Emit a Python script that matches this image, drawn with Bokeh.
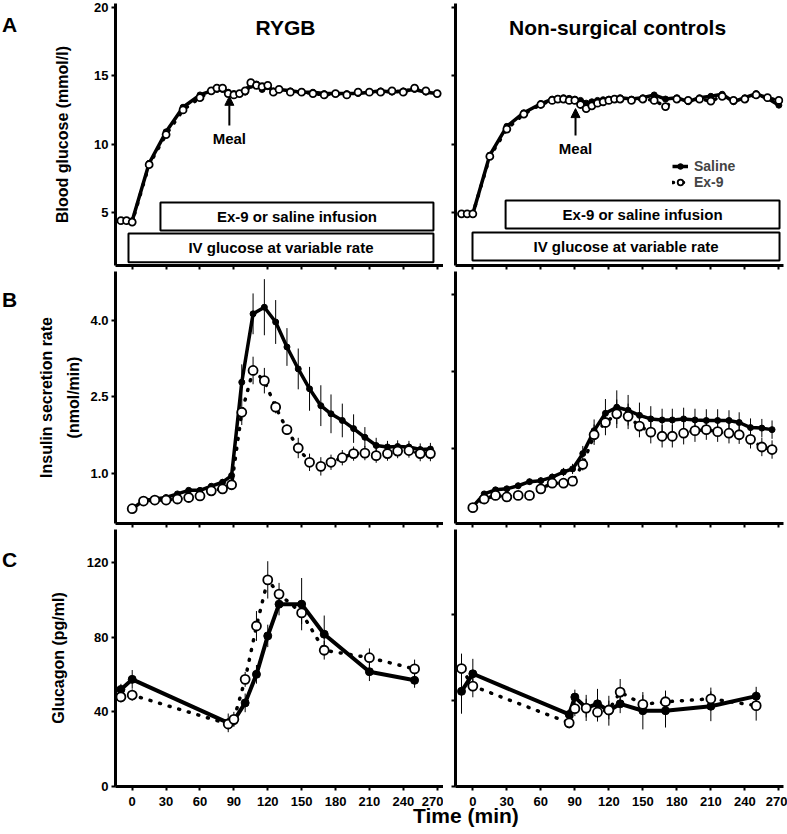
from bokeh.plotting import figure
from bokeh.layouts import column, row
from bokeh.models import (ColumnDataSource, FixedTicker, PrintfTickFormatter, Label,
                          Arrow, NormalHead, Legend, LegendItem, Div, BoxAnnotation, Range1d)
from bokeh.embed import file_html
from bokeh.resources import INLINE

FONT = "Liberation Sans"

# ---------------- data ----------------
x_ticks = [0, 30, 60, 90, 120, 150, 180, 210, 240, 270]

# Panel A: blood glucose (mmol/l)
glu_t = [-10, -5, 0, 15, 30, 45, 60, 70, 75, 80, 85, 90, 95, 100, 105, 110, 115, 120, 125, 130,
         140, 150, 160, 170, 180, 190, 200, 210, 220, 230, 240, 250, 260, 270]
rygb_glu_saline = [4.4, 4.4, 4.4, 8.6, 10.9, 12.7, 13.6, 13.9, 14.0, 14.0, 13.8, 13.7, 13.7, 13.8, 14.3,
                   14.4, 14.0, 14.2, 13.9, 14.0, 13.9, 13.8, 13.8, 13.7, 13.7, 13.7, 13.7, 13.8, 13.9,
                   13.8, 13.9, 14.0, 13.8, 13.7]
rygb_glu_ex9 = [4.4, 4.4, 4.3, 8.5, 10.7, 12.5, 13.4, 13.9, 14.1, 14.1, 13.7, 13.6, 13.7, 13.9, 14.5,
                14.3, 14.2, 14.3, 13.8, 14.0, 13.8, 13.8, 13.7, 13.6, 13.7, 13.6, 13.8, 13.8, 13.8,
                13.9, 13.8, 14.1, 13.9, 13.7]
ctrl_glu_saline = [4.9, 4.9, 4.9, 9.2, 11.3, 12.3, 12.95, 13.3, 13.35, 13.4, 13.35, 13.3, 13.2, 13.0,
                   13.1, 13.2, 13.25, 13.3, 13.3, 13.4, 13.3, 13.4, 13.6, 13.3, 13.4, 13.1, 13.4, 13.5,
                   13.65, 13.1, 13.4, 13.7, 13.35, 12.85]
ctrl_glu_ex9 = [4.9, 4.9, 4.9, 9.1, 11.1, 12.2, 12.9, 13.2, 13.3, 13.3, 13.2, 13.2, 12.9, 12.6, 12.8,
                13.0, 13.1, 13.2, 13.3, 13.3, 13.2, 13.3, 13.2, 12.75, 13.3, 13.2, 13.3, 13.15, 13.5,
                13.2, 13.3, 13.6, 13.4, 13.2]

# Panel B: insulin secretion rate (nmol/min)
isr_t = [0, 10, 20, 30, 40, 50, 60, 70, 80, 88, 97, 107, 117, 127, 137, 147, 157, 167, 176, 186,
         196, 206, 216, 226, 235, 245, 255, 264]
rygb_isr_saline = [0.31, 0.47, 0.50, 0.53, 0.60, 0.67, 0.67, 0.75, 0.83, 0.96, 2.79, 4.13, 4.26, 3.97,
                   3.48, 3.05, 2.66, 2.33, 2.17, 2.04, 1.88, 1.71, 1.55, 1.52, 1.53, 1.52, 1.47, 1.48]
rygb_isr_saline_sem = [0.03, 0.03, 0.03, 0.04, 0.04, 0.04, 0.05, 0.05, 0.06, 0.10, 0.35, 0.40, 0.55,
                       0.43, 0.37, 0.40, 0.43, 0.40, 0.38, 0.33, 0.28, 0.20, 0.15, 0.12, 0.12, 0.12,
                       0.12, 0.12]
rygb_isr_ex9 = [0.31, 0.46, 0.48, 0.48, 0.50, 0.53, 0.56, 0.66, 0.70, 0.78, 2.20, 3.02, 2.82, 2.30,
                1.86, 1.50, 1.22, 1.14, 1.22, 1.31, 1.39, 1.40, 1.35, 1.39, 1.44, 1.45, 1.39, 1.39]
rygb_isr_ex9_sem = [0.03, 0.03, 0.03, 0.03, 0.04, 0.04, 0.04, 0.05, 0.05, 0.08, 0.25, 0.27, 0.25,
                    0.12, 0.10, 0.20, 0.17, 0.18, 0.15, 0.15, 0.14, 0.14, 0.14, 0.14, 0.14, 0.14,
                    0.15, 0.15]
ctrl_isr_saline = [0.35, 0.60, 0.68, 0.70, 0.76, 0.84, 0.86, 0.93, 1.03, 1.09, 1.39, 1.84, 2.18, 2.30,
                   2.24, 2.14, 2.07, 2.05, 2.05, 2.07, 2.05, 2.04, 2.04, 2.04, 2.00, 1.90, 1.89, 1.86]
ctrl_isr_saline_sem = [0.03, 0.05, 0.05, 0.05, 0.06, 0.06, 0.07, 0.07, 0.08, 0.10, 0.15, 0.22, 0.28,
                       0.33, 0.30, 0.25, 0.25, 0.22, 0.22, 0.22, 0.22, 0.22, 0.22, 0.20, 0.20, 0.18,
                       0.18, 0.18]
ctrl_isr_ex9 = [0.33, 0.50, 0.57, 0.54, 0.57, 0.57, 0.70, 0.81, 0.81, 0.85, 1.18, 1.76, 2.00, 2.17,
                2.12, 1.93, 1.81, 1.73, 1.73, 1.79, 1.84, 1.86, 1.82, 1.79, 1.76, 1.67, 1.52, 1.47]
ctrl_isr_ex9_sem = [0.03, 0.04, 0.05, 0.05, 0.05, 0.05, 0.06, 0.07, 0.07, 0.08, 0.12, 0.20, 0.25,
                    0.28, 0.25, 0.22, 0.22, 0.22, 0.22, 0.22, 0.22, 0.20, 0.20, 0.20, 0.18, 0.18,
                    0.18, 0.18]

# Panel C: glucagon (pg/ml)
glc_t = [-10, 0, 85, 90, 100, 110, 120, 130, 150, 170, 210, 250]
rygb_glc_saline = [52, 57.4, 34.1, 35.3, 44.8, 60.1, 80.7, 97.7, 97.7, 81.6, 61.5, 56.9]
rygb_glc_saline_sem = [3, 5, 5, 3, 5, 5, 6, 6, 14, 10, 5, 4]
rygb_glc_ex9 = [48, 49, 33.5, 36, 57.4, 86, 110.7, 103.1, 93, 73, 69, 63]
rygb_glc_ex9_sem = [3, 3, 3, 4, 4, 8, 10, 6, 6, 5, 5, 5]
ctrl_glc_saline = [51, 60.4, 38.6, 47.9, 42.1, 44.3, 40.6, 44.3, 40.6, 40.6, 43, 48.4]
ctrl_glc_saline_sem = [12, 8, 3, 4, 7, 8, 8, 5, 10, 9, 8, 5]
ctrl_glc_ex9 = [63.2, 53.8, 34.1, 41.7, 42, 39.8, 41, 50.6, 44, 45.4, 47, 43.3]
ctrl_glc_ex9_sem = [8, 6, 3, 4, 5, 5, 5, 7, 5, 6, 6, 8]

# ---------------- helpers ----------------
FW = 328
LETTER_W = 22


def make_fig(left, yr, yticks, fh, top_b, bottom_b, show_ylabels, ylabel=None,
             ylabel_standoff=10, xlabels=False):
    xr = Range1d(-14.8, 275.6) if left else Range1d(-15.3, 274.1)
    p = figure(frame_width=FW, frame_height=fh, x_range=xr, y_range=Range1d(*yr),
               min_border_left=(115 - LETTER_W) if left else 12,
               min_border_right=0 if left else 4,
               min_border_top=top_b, min_border_bottom=bottom_b,
               output_backend="svg", toolbar_location=None, tools="")
    p.outline_line_color = None
    p.grid.visible = False
    p.background_fill_color = "white"
    p.border_fill_color = "white"
    for ax in (p.xaxis[0], p.yaxis[0]):
        ax.axis_line_width = 3
        ax.axis_line_color = "black"
        ax.major_tick_line_width = 2
        ax.major_tick_line_color = "black"
        ax.major_tick_in = 0
        ax.major_tick_out = 4
        ax.minor_tick_line_color = None
        ax.minor_tick_out = 0
        ax.minor_tick_in = 0
        ax.major_label_text_font = FONT
        ax.major_label_text_font_style = "bold"
        ax.major_label_text_font_size = "13px"
        ax.major_label_text_color = "black"
    p.xaxis.ticker = FixedTicker(ticks=x_ticks)
    p.yaxis.ticker = FixedTicker(ticks=yticks)
    if xlabels:
        p.xaxis.major_label_standoff = 6
    else:
        p.xaxis.major_label_text_font_size = "0px"
        p.xaxis.major_label_text_color = None
        p.xaxis.major_label_standoff = 0
    if show_ylabels:
        p.yaxis.major_label_standoff = 3
    else:
        p.yaxis.major_label_text_font_size = "0px"
        p.yaxis.major_label_text_color = None
        p.yaxis.major_label_standoff = 0
    if ylabel:
        p.yaxis.axis_label = ylabel
        p.yaxis.axis_label_text_font = FONT
        p.yaxis.axis_label_text_font_style = "bold"
        p.yaxis.axis_label_text_font_size = "16px"
        p.yaxis.axis_label_text_color = "black"
        p.yaxis.axis_label_standoff = ylabel_standoff
    return p


def draw_series(p, t, saline, ex9, saline_sem=None, ex9_sem=None, sal_size=7, ex_size=8,
                lw=3.5):
    s_src = ColumnDataSource(dict(t=t, y=saline))
    e_src = ColumnDataSource(dict(t=t, y=ex9))
    rl = p.line("t", "y", source=s_src, line_color="black", line_width=lw, line_join="round")
    el = p.line("t", "y", source=e_src, line_color="black", line_width=3.5, line_dash="1 9",
                line_cap="round")
    if saline_sem is not None:
        sb = ColumnDataSource(dict(t=t, lo=[v - e for v, e in zip(saline, saline_sem)],
                                   hi=[v + e for v, e in zip(saline, saline_sem)]))
        p.segment("t", "lo", "t", "hi", source=sb, line_color="black", line_width=1)
    if ex9_sem is not None:
        eb = ColumnDataSource(dict(t=t, lo=[v - e for v, e in zip(ex9, ex9_sem)],
                                   hi=[v + e for v, e in zip(ex9, ex9_sem)]))
        p.segment("t", "lo", "t", "hi", source=eb, line_color="black", line_width=1)
    rs = p.scatter("t", "y", source=s_src, size=sal_size, marker="circle", fill_color="black",
                   line_color="black")
    es = p.scatter("t", "y", source=e_src, size=ex_size, marker="circle", fill_color="white",
                   line_color="black", line_width=1.8)
    return (rl, rs), (el, es)


def letter_div(txt, pad_top):
    return Div(text=txt, width=LETTER_W, height=40,
               styles={"font-family": "Liberation Sans, Arial, sans-serif",
                       "font-weight": "bold", "font-size": "21px", "line-height": "22px",
                       "padding-top": f"{pad_top}px", "padding-left": "2px", "margin": "0",
                       "color": "black"})


def boxes(p, ex_left, iv_left, right, ex_rng, iv_rng):
    for (l, (b, t), txt) in ((ex_left, ex_rng, "Ex-9 or saline infusion"),
                             (iv_left, iv_rng, "IV glucose at variable rate")):
        p.add_layout(BoxAnnotation(left=l, right=right, bottom=b, top=t, fill_color="white",
                                   fill_alpha=1.0, line_color="black", line_width=2,
                                   line_alpha=1.0))
        p.add_layout(Label(x=(l + right) / 2, y=(b + t) / 2, text=txt, text_font=FONT,
                           text_font_style="bold", text_font_size="15px", text_align="center",
                           text_baseline="middle", text_color="black"))


def meal(p, x, y0, y1, ytxt):
    p.add_layout(Arrow(end=NormalHead(size=9, fill_color="black", line_color="black"),
                       x_start=x, y_start=y0, x_end=x, y_end=y1, line_width=2,
                       line_color="black"))
    p.add_layout(Label(x=x, y=ytxt, text="Meal", text_font=FONT, text_font_style="bold",
                       text_font_size="15px", text_align="center", text_baseline="middle",
                       text_color="black"))


def title(p, x, txt):
    p.add_layout(Label(x=x, y=18.55, text=txt, text_font=FONT, text_font_style="bold",
                       text_font_size="21px", text_align="center", text_baseline="middle",
                       text_color="black"))


# ---------------- row A ----------------
ry_top = (1.12, 20.29)
pA1 = make_fig(True, ry_top, [5, 10, 15, 20], 262, 3, 6, True, "Blood glucose (mmol/l)", 20)
pA2 = make_fig(False, ry_top, [5, 10, 15, 20], 262, 3, 6, False)
draw_series(pA1, glu_t, rygb_glu_saline, rygb_glu_ex9, sal_size=6, ex_size=7)
sal2, ex2 = draw_series(pA2, glu_t, ctrl_glu_saline, ctrl_glu_ex9, sal_size=6, ex_size=7)
boxes(pA1, 25, -3.3, 266.7, (3.68, 5.73), (1.35, 3.46))
boxes(pA2, 28.9, -0.3, 270.6, (3.83, 5.88), (1.49, 3.54))
meal(pA1, 86, 11.36, 13.5, 10.41)
meal(pA2, 90.6, 10.63, 12.6, 9.68)
title(pA1, 135.7, "RYGB")
title(pA2, 127.7, "Non-surgical controls")
legend = Legend(items=[LegendItem(label="Saline", renderers=list(sal2)),
                       LegendItem(label="Ex-9", renderers=list(ex2))],
                location=(217, 75), padding=0, spacing=0, glyph_width=16, glyph_height=14,
                label_standoff=6, border_line_color=None, background_fill_alpha=0,
                label_text_font=FONT, label_text_font_style="bold", label_text_font_size="14px",
                margin=0)
pA2.add_layout(legend)

# ---------------- row B ----------------
ry_mid = (0.02, 4.96)
pB1 = make_fig(True, ry_mid, [1.0, 2.5, 4.0], 252, 0, 6, True,
               "Insulin secretion rate\n(nmol/min)", 5)
pB1.yaxis.axis_label_text_line_height = 1.6
pB2 = make_fig(False, ry_mid, [1.5, 3.0, 4.5], 252, 0, 6, False)
pB1.yaxis.formatter = PrintfTickFormatter(format="%.1f")
draw_series(pB1, isr_t, rygb_isr_saline, rygb_isr_ex9, rygb_isr_saline_sem, rygb_isr_ex9_sem,
            sal_size=6, ex_size=9)
draw_series(pB2, isr_t, ctrl_isr_saline, ctrl_isr_ex9, ctrl_isr_saline_sem, ctrl_isr_ex9_sem,
            sal_size=6, ex_size=9)

# ---------------- row C ----------------
ry_bot = (0, 137.7)
pC1 = make_fig(True, ry_bot, [0, 40, 80, 120], 257, 0, 6, True, "Glucagon (pg/ml)", 17,
               xlabels=True)
pC2 = make_fig(False, ry_bot, [0, 46, 92, 138], 257, 0, 6, False, xlabels=True)
draw_series(pC1, glc_t, rygb_glc_saline, rygb_glc_ex9, rygb_glc_saline_sem, rygb_glc_ex9_sem,
            sal_size=8, ex_size=9, lw=4)
draw_series(pC2, glc_t, ctrl_glc_saline, ctrl_glc_ex9, ctrl_glc_saline_sem, ctrl_glc_ex9_sem,
            sal_size=8, ex_size=9, lw=4)

xlabel = Div(text="Time (min)", width=787, height=20,
             styles={"font-family": "Liberation Sans, Arial, sans-serif", "font-weight": "bold",
                     "font-size": "21px", "line-height": "16px", "padding-left": "413px",
                     "margin": "0", "color": "black"})

root = column(row(letter_div("A", 14), pA1, pA2, spacing=0),
              row(letter_div("B", 18), pB1, pB2, spacing=0),
              row(letter_div("C", 20), pC1, pC2, spacing=0),
              xlabel, spacing=0)

open("out.html", "w").write(file_html(root, INLINE))
